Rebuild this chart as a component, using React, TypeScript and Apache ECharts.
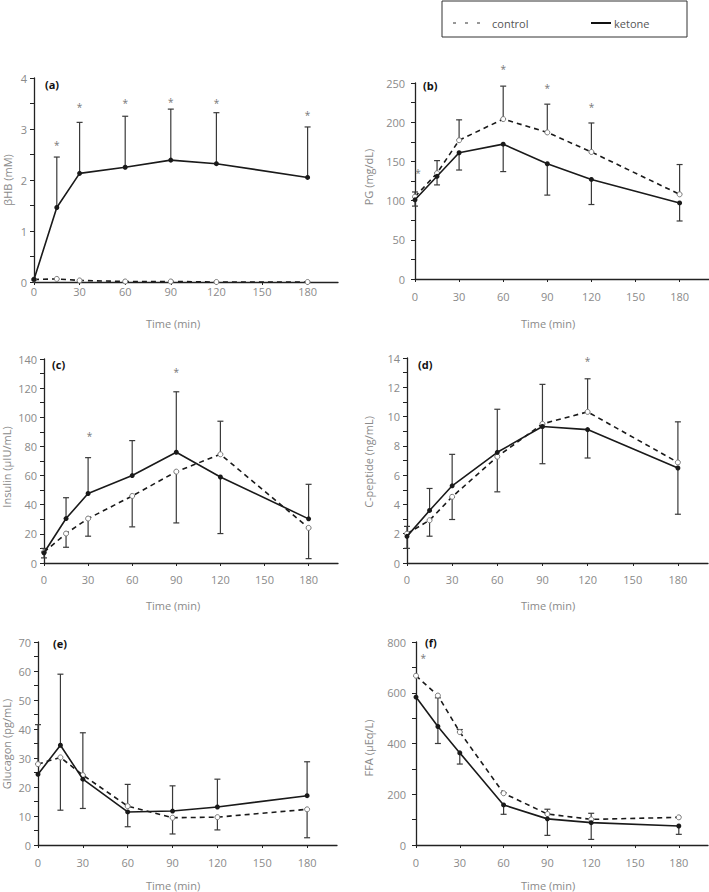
import React, { useEffect, useRef } from "react";
import * as echarts from "echarts";

const times = [0, 15, 30, 60, 90, 120, 180];
const xTicks = [0, 30, 60, 90, 120, 150, 180];

// (a) βHB (mM)
const ketoneA = [0.05, 1.46, 2.13, 2.25, 2.39, 2.32, 2.05];
const controlA = [0.05, 0.06, 0.03, 0.01, 0.01, 0.0, 0.0];
const ketoneAHi = [null, 2.45, 3.13, 3.25, 3.39, 3.32, 3.04];
const ketoneALo = [null, null, null, null, null, null, null];
const controlAHi = [null, null, null, null, null, null, null];
const controlALo = [null, null, null, null, null, null, null];
const starsA = [[15, 2.69], [30, 3.44], [60, 3.51], [90, 3.53], [120, 3.51], [180, 3.28]];

// (b) PG (mg/dL)
const ketoneB = [101, 131, 161, 172, 147, 127, 97];
const controlB = [105, 135, 177, 204, 187, 162, 108];
const ketoneBHi = [null, null, null, null, null, null, null];
const ketoneBLo = [93, 120, 139, 137, 107, 95, 74];
const controlBHi = [111, 151, 203, 246, 223, 199, 146];
const controlBLo = [null, null, null, null, null, null, null];
const starsB = [[2, 135], [60, 268], [90, 243], [120, 220]];

// (c) Insulin (μIU/mL)
const ketoneC = [7, 30.5, 47.7, 60, 76, 59, 30.3];
const controlC = [7.5, 20.2, 30.5, 46, 62.7, 74.6, 24.1];
const ketoneCHi = [10, 44.8, 72.3, 84, 117.5, null, 54];
const ketoneCLo = [null, null, null, null, null, 20.2, null];
const controlCHi = [null, null, null, null, null, 97.3, null];
const controlCLo = [3.5, 10.8, 18.4, 24.8, 27.5, null, 3];
const starsC = [[31, 87], [90, 131]];

// (d) C-peptide (ng/mL)
const ketoneD = [1.82, 3.59, 5.27, 7.56, 9.32, 9.11, 6.49];
const controlD = [2.0, 2.92, 4.52, 7.26, 9.5, 10.32, 6.87];
const ketoneDHi = [2.5, 5.09, 7.42, 10.5, null, null, null];
const ketoneDLo = [null, null, null, null, 6.78, 7.17, 3.33];
const controlDHi = [null, null, null, null, 12.2, 12.58, 9.64];
const controlDLo = [1.0, 1.83, 2.97, 4.86, null, null, null];
const starsD = [[120, 13.8]];

// (e) Glucagon (pg/mL)
const ketoneE = [24.4, 34.4, 22.7, 11.4, 11.7, 13.1, 17];
const controlE = [27.9, 30.2, 24.1, 13.4, 9.4, 9.6, 12.3];
const ketoneEHi = [null, 58.9, null, null, 20.4, 22.7, 28.7];
const ketoneELo = [null, null, 12.6, 6.3, null, null, null];
const controlEHi = [41.5, null, 38.7, 20.9, null, null, null];
const controlELo = [null, 12, null, null, 3.8, 5.2, 2.5];
const starsE: number[][] = [];

// (f) FFA (μEq/L)
const ketoneF = [583, 467, 363, 158, 103, 88, 75];
const controlF = [667, 589, 445, 204, 122, 101, 109];
const ketoneFHi = [null, 580, null, null, null, null, null];
const ketoneFLo = [null, 400, 319, 121, 38, 22, 42];
const controlFHi = [null, null, 455, 206, 141, 125, null];
const controlFLo = [null, null, null, null, null, null, null];
const starsF = [[5, 737]];

const FONT = "Open Sans";
const GRAY = "#8a8a8a";

type Panel = {
  label: string; yName: string; yMax: number; yInt: number;
  ketone: number[]; control: number[];
  kHi: (number | null)[]; kLo: (number | null)[]; cHi: (number | null)[]; cLo: (number | null)[];
  stars: number[][];
  grid: { left: number; top: number; width: number; height: number };
  xMargin: number; yMargin: number;
  labelPos: [number, number]; yNamePos: [number, number]; xNamePos: [number, number];
};

const panels: Panel[] = [
  { label: "(a)", yName: "βHB (mM)", yMax: 4, yInt: 1, ketone: ketoneA, control: controlA,
    kHi: ketoneAHi, kLo: ketoneALo, cHi: controlAHi, cLo: controlALo, stars: starsA,
    grid: { left: 34, top: 78, width: 304, height: 204 }, xMargin: 4, yMargin: 7,
    labelPos: [45, 84], yNamePos: [7, 180], xNamePos: [173, 323] },
  { label: "(b)", yName: "PG (mg/dL)", yMax: 250, yInt: 50, ketone: ketoneB, control: controlB,
    kHi: ketoneBHi, kLo: ketoneBLo, cHi: controlBHi, cLo: controlBLo, stars: starsB,
    grid: { left: 415, top: 83, width: 294, height: 196 }, xMargin: 12, yMargin: 10,
    labelPos: [423, 85], yNamePos: [368, 177], xNamePos: [548, 323] },
  { label: "(c)", yName: "Insulin (μIU/mL)", yMax: 140, yInt: 20, ketone: ketoneC, control: controlC,
    kHi: ketoneCHi, kLo: ketoneCLo, cHi: controlCHi, cLo: controlCLo, stars: starsC,
    grid: { left: 44, top: 359, width: 294, height: 204 }, xMargin: 11, yMargin: 7,
    labelPos: [52, 364], yNamePos: [6, 467], xNamePos: [173, 605] },
  { label: "(d)", yName: "C-peptide (ng/mL)", yMax: 14, yInt: 2, ketone: ketoneD, control: controlD,
    kHi: ketoneDHi, kLo: ketoneDLo, cHi: controlDHi, cLo: controlDLo, stars: starsD,
    grid: { left: 407, top: 358, width: 301, height: 205 }, xMargin: 11, yMargin: 7,
    labelPos: [418, 364], yNamePos: [368, 462], xNamePos: [548, 605] },
  { label: "(e)", yName: "Glucagon (pg/mL)", yMax: 70, yInt: 10, ketone: ketoneE, control: controlE,
    kHi: ketoneEHi, kLo: ketoneELo, cHi: controlEHi, cLo: controlELo, stars: starsE,
    grid: { left: 38, top: 642, width: 299, height: 203 }, xMargin: 12, yMargin: 7,
    labelPos: [53, 643], yNamePos: [6, 744], xNamePos: [173, 885] },
  { label: "(f)", yName: "FFA (μEq/L)", yMax: 800, yInt: 200, ketone: ketoneF, control: controlF,
    kHi: ketoneFHi, kLo: ketoneFLo, cHi: controlFHi, cLo: controlFLo, stars: starsF,
    grid: { left: 416, top: 642, width: 292, height: 203 }, xMargin: 12, yMargin: 10,
    labelPos: [425, 642], yNamePos: [368, 748], xNamePos: [548, 885] },
];

function errData(means: number[], ends: (number | null)[]) {
  const out: number[][] = [];
  times.forEach((t, i) => {
    const e = ends[i];
    if (e !== null && e !== undefined) out.push([t, means[i], e]);
  });
  return out;
}

function buildOption() {
  const grid: any[] = [];
  const xAxis: any[] = [];
  const yAxis: any[] = [];
  const series: any[] = [];
  const graphic: any[] = [];

  panels.forEach((p, i) => {
    grid.push({ ...p.grid, containLabel: false, outerBoundsMode: "none" });
    xAxis.push({
      type: "value", gridIndex: i, min: 0, max: 200, interval: 30,
      axisLine: { show: true, lineStyle: { color: "#222", width: 1.3 } },
      axisTick: { show: true, length: 3, customValues: xTicks, lineStyle: { color: "#222" } },
      axisLabel: { customValues: xTicks, margin: p.xMargin, color: GRAY, fontSize: 11, fontFamily: FONT },
      splitLine: { show: false },
    });
    yAxis.push({
      type: "value", gridIndex: i, min: 0, max: p.yMax, interval: p.yInt,
      axisLine: { show: true, lineStyle: { color: "#222", width: 1.3 } },
      axisTick: { show: true, length: 4, lineStyle: { color: "#222" } },
      minorTick: { show: true, splitNumber: 2, length: 4, lineStyle: { color: "#222" } },
      axisLabel: { margin: p.yMargin, color: GRAY, fontSize: 11, fontFamily: FONT },
      splitLine: { show: false },
    });

    const errRender = (params: any, api: any) => {
      const x = api.value(0), m = api.value(1), e = api.value(2);
      const p0 = api.coord([x, m]);
      const p1 = api.coord([x, e]);
      const st = { stroke: "#3a3a3a", lineWidth: 1.2 };
      return {
        type: "group",
        children: [
          { type: "line", shape: { x1: p0[0], y1: p0[1], x2: p1[0], y2: p1[1] }, style: st },
          { type: "line", shape: { x1: p1[0] - 3, y1: p1[1], x2: p1[0] + 3, y2: p1[1] }, style: st },
        ],
      };
    };
    const errSets = [
      errData(p.ketone, p.kHi), errData(p.ketone, p.kLo),
      errData(p.control, p.cHi), errData(p.control, p.cLo),
    ];
    errSets.forEach((d) => {
      series.push({
        type: "custom", xAxisIndex: i, yAxisIndex: i, data: d, z: 1,
        encode: { x: 0, y: 1 }, renderItem: errRender, silent: true,
      });
    });

    series.push({
      name: "control", type: "line", xAxisIndex: i, yAxisIndex: i, z: 3,
      data: times.map((t, k) => [t, p.control[k]]),
      lineStyle: { color: "#1a1a1a", width: 1.6, type: [5, 4] },
      symbol: "circle", symbolSize: 5,
      itemStyle: { color: "#ffffff", borderColor: "#777", borderWidth: 1 },
    });
    series.push({
      name: "ketone", type: "line", xAxisIndex: i, yAxisIndex: i, z: 4,
      data: times.map((t, k) => [t, p.ketone[k]]),
      lineStyle: { color: "#1a1a1a", width: 1.6 },
      symbol: "circle", symbolSize: 5,
      itemStyle: { color: "#1a1a1a", borderColor: "#1a1a1a", borderWidth: 0 },
    });
    if (p.stars.length) {
      series.push({
        type: "custom", xAxisIndex: i, yAxisIndex: i, data: p.stars, z: 5,
        encode: { x: 0, y: 1 }, silent: true,
        renderItem: (params: any, api: any) => {
          const c = api.coord([api.value(0), api.value(1)]);
          return {
            type: "text", x: c[0], y: c[1],
            style: { text: "*", fill: "#777", font: `10px "${FONT}"`, align: "center", verticalAlign: "middle" },
          };
        },
      });
    }

    graphic.push({
      type: "text", left: undefined, x: p.labelPos[0], y: p.labelPos[1],
      style: { text: p.label, fill: "#111", font: `bold 11px "${FONT}"`, align: "left", verticalAlign: "middle" },
    });
    graphic.push({
      type: "text", x: p.yNamePos[0], y: p.yNamePos[1], rotation: Math.PI / 2,
      style: { text: p.yName, fill: GRAY, font: `11px "${FONT}"`, align: "center", verticalAlign: "middle" },
    });
    graphic.push({
      type: "text", x: p.xNamePos[0], y: p.xNamePos[1],
      style: { text: "Time (min)", fill: GRAY, font: `11px "${FONT}"`, align: "center", verticalAlign: "middle" },
    });
  });

  // legend box
  graphic.push({
    type: "rect", shape: { x: 442, y: 1, width: 245, height: 36 },
    style: { fill: "none", stroke: "#333", lineWidth: 1 },
  });
  graphic.push({
    type: "line", shape: { x1: 453, y1: 23, x2: 483, y2: 23 },
    style: { stroke: "#333", lineWidth: 1.1, lineDash: [3, 9] },
  });
  graphic.push({
    type: "text", x: 492, y: 23,
    style: { text: "control", fill: "#555", font: `11px "${FONT}"`, align: "left", verticalAlign: "middle" },
  });
  graphic.push({
    type: "line", shape: { x1: 591, y1: 23, x2: 611, y2: 23 },
    style: { stroke: "#111", lineWidth: 2 },
  });
  graphic.push({
    type: "text", x: 614, y: 23,
    style: { text: "ketone", fill: "#555", font: `11px "${FONT}"`, align: "left", verticalAlign: "middle" },
  });

  return {
    animation: false,
    backgroundColor: "#ffffff",
    textStyle: { fontFamily: FONT },
    grid, xAxis, yAxis, series, graphic,
  };
}

export default function App() {
  const ref = useRef<HTMLDivElement>(null);
  useEffect(() => {
    if (!ref.current) return;
    const chart = echarts.init(ref.current, undefined, { renderer: "svg" });
    chart.setOption(buildOption() as any);
    return () => chart.dispose();
  }, []);
  return (
    <div
      ref={ref}
      style={{ position: "absolute", left: 0, top: 0, width: 709, height: 892, background: "#fff" }}
    />
  );
}
